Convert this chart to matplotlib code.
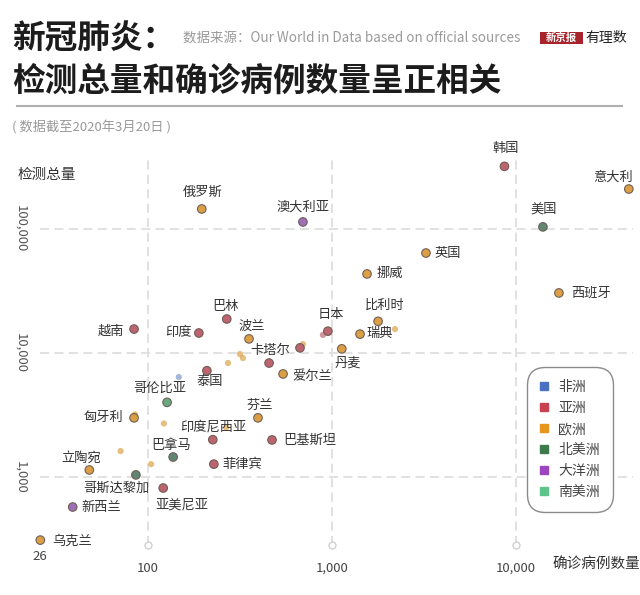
import matplotlib
matplotlib.use("Agg")
import matplotlib.pyplot as plt
from matplotlib.lines import Line2D
from matplotlib.patches import Rectangle
import matplotlib.transforms as mtransforms

plt.rcParams['font.family'] = ['Noto Sans CJK SC', 'DejaVu Sans']

# data: confirmed cases vs. total tests, 2020-03-20
names = ['韩国', '意大利', '美国', '西班牙', '英国', '挪威', '比利时', '瑞典', '日本', '丹麦',
         '俄罗斯', '澳大利亚', '巴林', '越南', '印度', '波兰', '卡塔尔', '', '爱尔兰', '泰国',
         '哥伦比亚', '匈牙利', '芬兰', '印度尼西亚', '巴基斯坦', '巴拿马', '菲律宾', '立陶宛',
         '哥斯达黎加', '亚美尼亚', '新西兰', '乌克兰']
continents = ['亚洲', '欧洲', '北美洲', '欧洲', '欧洲', '欧洲', '欧洲', '欧洲', '亚洲', '欧洲',
              '欧洲', '大洋洲', '亚洲', '亚洲', '亚洲', '欧洲', '亚洲', '亚洲', '欧洲', '亚洲',
              '南美洲', '欧洲', '欧洲', '亚洲', '亚洲', '北美洲', '亚洲', '欧洲',
              '北美洲', '亚洲', '大洋洲', '欧洲']
cases = [8650, 41000, 14000, 17100, 3240, 1550, 1780, 1420, 950, 1130,
         196, 695, 268, 84, 189, 354, 670, 455, 542, 209,
         127, 84, 396, 225, 472, 137, 228, 48,
         86, 121, 39, 26]
tests = [320000, 210000, 104000, 30500, 64000, 43400, 18000, 14200, 15000, 10800,
         145000, 114000, 18800, 15600, 14500, 13000, 11000, 8300, 6780, 7200,
         4000, 3000, 3000, 2000, 1990, 1450, 1270, 1140,
         1040, 815, 573, 310]

# unlabelled smaller points
minor_continents = ['亚洲', '欧洲', '欧洲', '欧洲', '欧洲', '欧洲', '欧洲', '欧洲', '欧洲',
                    '欧洲', '欧洲', '非洲']
minor_cases = [893, 695, 2200, 272, 316, 328, 85, 122, 266, 71, 104, 147]
minor_tests = [14000, 11800, 15600, 8300, 9800, 9100, 3200, 2700, 2500, 1620, 1270, 6400]

legend_names = ['非洲', '亚洲', '欧洲', '北美洲', '大洋洲', '南美洲']
legend_colors = ['#4a70c0', '#c9414e', '#e8951c', '#3e7a4c', '#9c47bf', '#5cc48b']
point_colors = {'非洲': '#7591c8', '亚洲': '#b95c68', '欧洲': '#d99b3c',
                '北美洲': '#5a806c', '大洋洲': '#9a68b4', '南美洲': '#62a27c'}

x_ticks = [100, 1000, 10000]
x_labels = ['100', '1,000', '10,000']
y_ticks = [1000, 10000, 100000]
y_labels = ['1,000', '10,000', '100,000']

# label offsets in pixels (dx, dy, ha)
label_pos = {
    '韩国': (1, 18, 'center'), '意大利': (4, 12, 'right'), '美国': (1, 18, 'center'),
    '西班牙': (12, 0, 'left'), '英国': (9, 0, 'left'), '挪威': (9, 0, 'left'),
    '比利时': (7, 16, 'center'), '瑞典': (6, 1, 'left'), '日本': (3, 17, 'center'),
    '丹麦': (6, -14, 'center'), '俄罗斯': (1, 17, 'center'), '澳大利亚': (0, 15, 'center'),
    '巴林': (-1, 13, 'center'), '越南': (-10, -2, 'right'), '印度': (-7, 0, 'right'),
    '波兰': (3, 12, 'center'), '卡塔尔': (-10, -3, 'right'), '爱尔兰': (9, -3, 'left'),
    '泰国': (3, -11, 'center'), '哥伦比亚': (-7, 14, 'center'), '匈牙利': (-11, 0, 'right'),
    '芬兰': (2, 13, 'center'), '印度尼西亚': (1, 13, 'center'), '巴基斯坦': (11, 0, 'left'),
    '巴拿马': (-2, 12, 'center'), '菲律宾': (9, 0, 'left'), '立陶宛': (-8, 12, 'center'),
    '哥斯达黎加': (-20, -13, 'center'), '亚美尼亚': (19, -17, 'center'),
    '新西兰': (9, 0, 'left'), '乌克兰': (12, -1, 'left'),
}

W, H = 640, 595
fig = plt.figure(figsize=(6.4, 5.95), dpi=100)
ax = fig.add_axes([40 / W, 50 / H, 593 / W, 385 / H])
ax.set_xscale('log')
ax.set_yscale('log')
ax.set_xlim(25.9, 43200)
ax.set_ylim(283, 360000)
for s in ax.spines.values():
    s.set_visible(False)
ax.set_xticks(x_ticks, x_labels)
ax.set_yticks(y_ticks, y_labels)
ax.minorticks_off()
ax.grid(True, which='major', ls=(0, (5, 3)), color='#dedede', lw=1.3)
ax.set_axisbelow(True)
ax.tick_params(axis='x', length=0, pad=12, labelsize=9.5, labelcolor='#444')
ax.tick_params(axis='y', length=0, pad=9, labelsize=9.5, labelcolor='#555')
for lab in ax.get_yticklabels():
    lab.set_rotation(270)
    lab.set_va('center')

# hollow circles at the foot of the vertical gridlines
trans = mtransforms.blended_transform_factory(ax.transData, ax.transAxes)
ax.plot(x_ticks, [0] * len(x_ticks), 'o', ms=5, mfc='white', mec='#d0d0d0',
        mew=1, transform=trans, clip_on=False)
ax.text(26, -0.012, '26', transform=trans, ha='center', va='top', fontsize=9.5, color='#444')

# points
ax.scatter(minor_cases, minor_tests, s=20, c=[point_colors[c] for c in minor_continents],
           alpha=0.65, lw=0, zorder=3, clip_on=False)
ax.scatter(cases, tests, s=38, c=[point_colors[c] for c in continents],
           edgecolors='#6b5a52', linewidths=0.8, alpha=0.95, zorder=4, clip_on=False)

for n, x, y in zip(names, cases, tests):
    if not n:
        continue
    dx, dy, ha = label_pos[n]
    ax.annotate(n, (x, y), xytext=(dx * 0.72, dy * 0.72), textcoords='offset points',
                ha=ha, va='center', fontsize=9.5, color='#333', zorder=5)

# legend
handles = [Line2D([], [], ls='', marker='s', ms=5.5, mfc=c, mec=c) for c in legend_colors]
leg = ax.legend(handles, legend_names, loc='upper left',
                bbox_to_anchor=(527 / W, 1 - 367 / H), bbox_transform=fig.transFigure,
                frameon=True, fontsize=10, handlelength=0.6, handletextpad=0.7,
                labelspacing=0.5, borderpad=0.95, borderaxespad=0, labelcolor='#444')
frame = leg.get_frame()
frame.set_edgecolor('#8a8a8a')
frame.set_linewidth(1.0)
frame.set_facecolor('white')
frame.set_alpha(1)
frame.set_boxstyle('round,pad=0,rounding_size=1.3')

# axis titles
fig.text(18 / W, 1 - 175 / H, '检测总量', ha='left', va='center', fontsize=10.5, color='#333')
fig.text(552 / W, 1 - 564 / H, '确诊病例数量', ha='left', va='center', fontsize=10.5, color='#333')

# header
fig.text(12 / W, 1 - 39 / H, '新冠肺炎：', ha='left', va='center', fontsize=23.5,
         fontweight='bold', color='#1c1c1c')
fig.text(12 / W, 1 - 81 / H, '检测总量和确诊病例数量呈正相关', ha='left', va='center',
         fontsize=23.5, fontweight='bold', color='#1c1c1c')
fig.text(183 / W, 1 - 38 / H, '数据来源：Our World in Data based on official sources',
         ha='left', va='center', fontsize=9.7, color='#9a9a9a', fontweight='light')
fig.add_artist(Rectangle((540 / W, 1 - 44 / H), 43 / W, 12 / H, transform=fig.transFigure,
                         facecolor='#a8242c', edgecolor='none'))
fig.text(561.5 / W, 1 - 38 / H, '新京报', ha='center', va='center', fontsize=7.5,
         fontweight='bold', color='white')
fig.text(585 / W, 1 - 38 / H, '有理数', ha='left', va='center', fontsize=10,
         color='#222', fontstyle='italic')
fig.add_artist(Line2D([17 / W, 622 / W], [1 - 106 / H, 1 - 106 / H], transform=fig.transFigure,
                      color='#b0b0b0', lw=1.5))
fig.text(12 / W, 1 - 127 / H, '( 数据截至2020年3月20日 )', ha='left', va='center',
         fontsize=9.5, color='#9a9a9a')

fig.savefig('out.png', dpi=100, facecolor='white')
